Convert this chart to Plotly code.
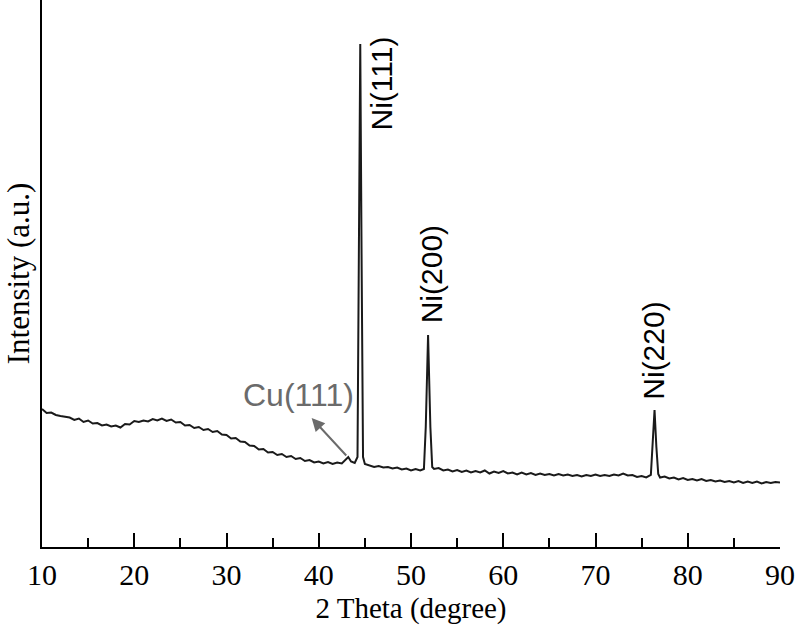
import plotly.graph_objects as go

two_theta = [
    10.0, 10.5, 11.0, 11.5, 12.0, 12.5, 13.0, 13.5, 14.0, 14.5, 15.0, 15.5, 16.0, 16.5, 17.0, 17.5,
    18.0, 18.5, 19.0, 19.5, 20.0, 20.5, 21.0, 21.5, 22.0, 22.5, 23.0, 23.5, 24.0, 24.5, 25.0, 25.5,
    26.0, 26.5, 27.0, 27.5, 28.0, 28.5, 29.0, 29.5, 30.0, 30.5, 31.0, 31.5, 32.0, 32.5, 33.0, 33.5,
    34.0, 34.5, 35.0, 35.5, 36.0, 36.5, 37.0, 37.5, 38.0, 38.5, 39.0, 39.5, 40.0, 40.5, 41.0, 41.5,
    42.0, 42.5, 43.0, 43.2, 43.5, 43.9, 44.2, 44.35, 44.5, 44.65, 44.8, 45.0, 45.5, 46.0, 46.5, 47.0,
    47.5, 48.0, 48.5, 49.0, 49.5, 50.0, 50.5, 51.0, 51.4, 51.6, 51.85, 52.1, 52.3, 52.5, 53.0, 53.5,
    54.0, 54.5, 55.0, 55.5, 56.0, 56.5, 57.0, 57.5, 58.0, 58.5, 59.0, 59.5, 60.0, 60.5, 61.0, 61.5,
    62.0, 62.5, 63.0, 63.5, 64.0, 64.5, 65.0, 65.5, 66.0, 66.5, 67.0, 67.5, 68.0, 68.5, 69.0, 69.5,
    70.0, 70.5, 71.0, 71.5, 72.0, 72.5, 73.0, 73.5, 74.0, 74.5, 75.0, 75.5, 76.0, 76.2, 76.4, 76.6,
    76.8, 77.0, 77.5, 78.0, 78.5, 79.0, 79.5, 80.0, 80.5, 81.0, 81.5, 82.0, 82.5, 83.0, 83.5, 84.0,
    84.5, 85.0, 85.5, 86.0, 86.5, 87.0, 87.5, 88.0, 88.5, 89.0, 89.5, 90.0,
]
intensity = [
    1380, 1340, 1345, 1320, 1310, 1300, 1295, 1270, 1285, 1250, 1265, 1235, 1240, 1215, 1225, 1205,
    1215, 1195, 1230, 1225, 1260, 1250, 1265, 1255, 1280, 1265, 1285, 1260, 1275, 1245, 1250, 1215,
    1220, 1190, 1200, 1170, 1180, 1150, 1160, 1125, 1120, 1085, 1090, 1055, 1050, 1015, 1010, 975,
    980, 945, 950, 920, 930, 900, 910, 880, 890, 860, 870, 845, 855, 835, 850, 830,
    845, 835, 880, 900, 855, 840, 900, 2800, 5030, 2800, 900, 830, 815, 800, 810, 795,
    800, 785, 795, 775, 785, 765, 780, 765, 780, 1200, 2120, 1200, 800, 780, 790, 765,
    775, 755, 770, 750, 765, 745, 760, 745, 765, 735, 755, 740, 760, 735, 745, 725,
    745, 725, 740, 720, 735, 720, 730, 715, 730, 715, 725, 710, 720, 705, 720, 710,
    725, 710, 720, 710, 725, 715, 735, 715, 720, 700, 710, 695, 720, 1000, 1370, 1000,
    730, 695, 705, 685, 695, 675, 690, 670, 680, 665, 680, 660, 670, 655, 665, 650,
    660, 645, 660, 640, 655, 640, 655, 635, 650, 640, 650, 645,
]

peak_labels = ["Ni(111)", "Ni(200)", "Ni(220)"]
peak_label_x = [46.8, 52.2, 76.2]
peak_label_y = [4150, 2220, 1450]

cu_label = "Cu(111)"
cu_label_x = 37.8
cu_label_y = 1520
cu_arrow_head = (39.23, 1290)
cu_arrow_tail = (43.13, 900)

x_ticks = [10, 20, 30, 40, 50, 60, 70, 80, 90]

fig = go.Figure()
fig.add_trace(go.Scatter(
    x=two_theta, y=intensity, mode="lines",
    line=dict(color="#1a1a1a", width=2),
    showlegend=False, hoverinfo="skip",
))

for txt, lx, ly in zip(peak_labels, peak_label_x, peak_label_y):
    fig.add_annotation(
        x=lx, y=ly, text=txt, textangle=-90, showarrow=False,
        xanchor="center", yanchor="bottom",
        font=dict(family="Liberation Sans, Arial", size=30, color="black"),
    )

fig.add_annotation(
    x=cu_label_x, y=cu_label_y, text=cu_label, showarrow=False,
    xanchor="center", yanchor="middle",
    font=dict(family="Liberation Sans, Arial", size=32, color="#6b6b6b"),
)
fig.add_annotation(
    x=cu_arrow_head[0], y=cu_arrow_head[1], ax=cu_arrow_tail[0], ay=cu_arrow_tail[1],
    axref="x", ayref="y", text="", showarrow=True,
    arrowhead=2, arrowsize=1.3, arrowwidth=2, arrowcolor="#6b6b6b",
)

fig.update_layout(
    width=796, height=633,
    margin=dict(l=42, r=16, t=0, b=86),
    paper_bgcolor="white", plot_bgcolor="white",
    font=dict(family="Liberation Serif, Times New Roman", color="black"),
    xaxis=dict(
        range=[10, 90], tickvals=x_ticks, ticks="inside", ticklen=14, tickwidth=2,
        tickcolor="black", showline=True, linecolor="black", linewidth=2,
        showgrid=False, zeroline=False,
        tickfont=dict(family="Liberation Serif, Times New Roman", size=30, color="black"),
        minor=dict(dtick=5, ticks="inside", ticklen=9, tickwidth=2, tickcolor="black", showgrid=False),
        title=dict(text="2 Theta (degree)", standoff=8,
                   font=dict(family="Liberation Serif, Times New Roman", size=29, color="black")),
    ),
    yaxis=dict(
        range=[0, 5470], showticklabels=False, ticks="", showline=True,
        linecolor="black", linewidth=2, showgrid=False, zeroline=False,
        title=dict(text="Intensity (a.u.)", standoff=1,
                   font=dict(family="Liberation Serif, Times New Roman", size=31, color="black")),
    ),
)

fig.write_html(
    "out.html",
    config={"displayModeBar": False},
    post_script="document.body.style.margin='0';document.body.style.overflow='hidden';",
)
